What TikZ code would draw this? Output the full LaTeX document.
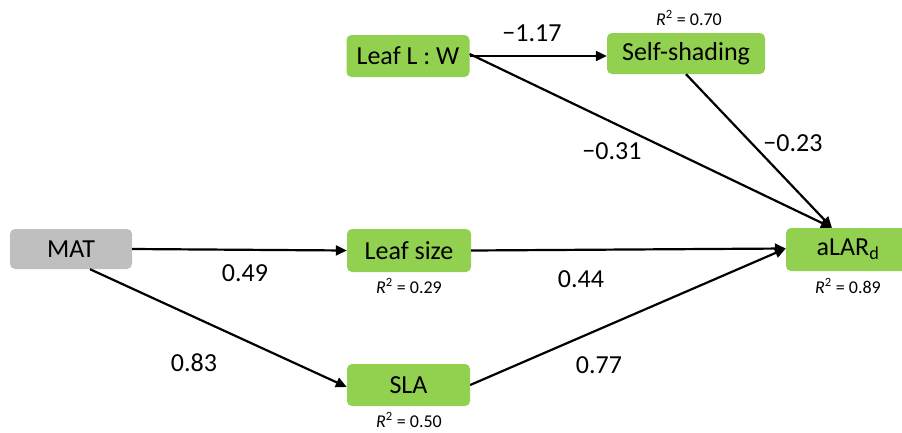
\documentclass[tikz,border=0pt]{standalone}
\usepackage{fontspec}
\setmainfont{Carlito}
\usetikzlibrary{arrows.meta}
\definecolor{boxgreen}{HTML}{92D050}
\definecolor{boxgray}{HTML}{BFBFBF}
\tikzset{
  varbox/.style={fill=boxgreen, rounded corners=5pt, minimum width=123pt, minimum height=42pt, inner sep=0pt, font=\fontsize{26}{29}\selectfont},
  graybox/.style={varbox, fill=boxgray, minimum width=122pt, minimum height=40pt},
  path/.style={line width=2.2pt, -{Triangle[length=11pt,width=10pt]}},
  coef/.style={font=\fontsize{26}{29}\selectfont, inner sep=0pt},
  rsq/.style={font=\fontsize{18}{20}\selectfont, inner sep=0pt, anchor=base}
}
\begin{document}
\begin{tikzpicture}[x=1pt,y=-1pt]
\useasboundingbox (0,0) rectangle (902,432);
\node[graybox] (mat) at (71,249) {MAT};
\node[varbox] (lw) at (408,56) {Leaf L : W};
\node[varbox, minimum width=158pt, minimum height=41pt] (ss) at (686,53.5) {Self-shading};
\node[varbox, minimum width=124pt, minimum height=43pt] (ls) at (409,250.5) {Leaf size};
\node[varbox] (sla) at (408.5,385) {SLA};
\node[varbox, minimum width=124pt, minimum height=43pt] (alar) at (848,249.5) {aLAR\textsubscript{d}};

\node[rsq] (rss) at (689,25) {\textit{R}\textsuperscript{2} = 0.70};
\node[rsq] (rls) at (409,293) {\textit{R}\textsuperscript{2} = 0.29};
\node[rsq] (rsla) at (409,427) {\textit{R}\textsuperscript{2} = 0.50};
\node[rsq] (ral) at (848,293) {\textit{R}\textsuperscript{2} = 0.89};

\coordinate (matb) at ([xshift=19pt]mat.south);
\coordinate (alt) at ([xshift=-16pt]alar.north);

\draw[path] (lw.east) -- (lw.east -| ss.west);
\draw[path] ([yshift=2pt]lw.east) -- (alt);
\draw[path] (ss.south) -- (alt);
\draw[path] (mat.east) -- (ls.west);
\draw[path] (ls.east) -- ([yshift=1pt]alar.west);
\draw[path] (matb) -- ([yshift=-2pt]sla.west);
\draw[path] (sla.east) -- ([yshift=1pt]alar.west);

\node[coef] (c1) at (532,33.5) {\char"2212 1.17};
\node[coef] (c2) at (612,151) {\char"2212 0.31};
\node[coef] (c3) at (793,143.5) {\char"2212 0.23};
\node[coef] (c4) at (245,273.5) {0.49};
\node[coef] (c5) at (581,279) {0.44};
\node[coef] (c6) at (194,362.5) {0.83};
\node[coef] (c7) at (599,365) {0.77};
\end{tikzpicture}
\end{document}
